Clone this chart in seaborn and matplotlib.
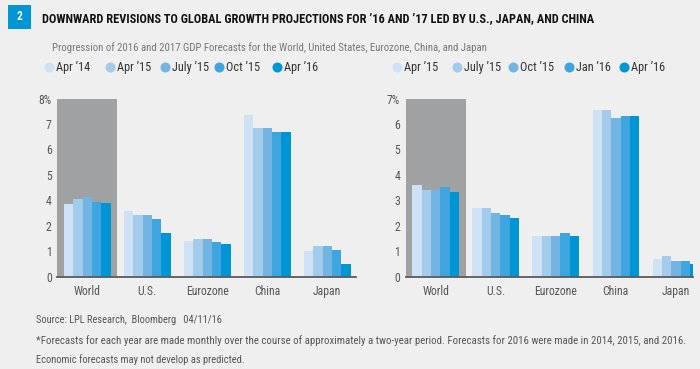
import matplotlib
matplotlib.use("Agg")
import matplotlib.pyplot as plt
from matplotlib import font_manager
from matplotlib.lines import Line2D
from matplotlib.patches import Rectangle
import seaborn as sns
import pandas as pd

regions = ["World", "U.S.", "Eurozone", "China", "Japan"]

# 2016 forecasts (left panel), in the panel's own plotted units
left_labels = ["Apr \u201914", "Apr \u201915", "July \u201915", "Oct \u201915", "Apr \u201916"]
left_values = {
    "Apr \u201914":  [2.84, 2.60, 1.42, 6.34, 0.99],
    "Apr \u201915":  [3.05, 2.43, 1.47, 5.86, 1.21],
    "July \u201915": [3.14, 2.43, 1.47, 5.86, 1.21],
    "Oct \u201915":  [2.95, 2.26, 1.38, 5.69, 1.04],
    "Apr \u201916":  [2.88, 1.73, 1.29, 5.69, 0.50],
}
left_ticklabels = ["0", "1", "2", "4", "5", "6", "7", "8%"]

# 2017 forecasts (right panel)
right_labels = ["Apr \u201915", "July \u201915", "Oct \u201915", "Jan \u201916", "Apr \u201916"]
right_values = {
    "Apr \u201915":  [3.61, 2.71, 1.60, 6.53, 0.71],
    "July \u201915": [3.41, 2.71, 1.60, 6.53, 0.80],
    "Oct \u201915":  [3.41, 2.51, 1.60, 6.24, 0.60],
    "Jan \u201916":  [3.52, 2.42, 1.71, 6.30, 0.60],
    "Apr \u201916":  [3.32, 2.31, 1.60, 6.30, 0.50],
}
right_ticklabels = ["0", "1", "2", "3", "4", "5", "6", "7%"]

colors = ["#cfe2f5", "#a3cbec", "#72b5e3", "#3ea5de", "#0096d6"]
BG = "#efefef"
GREY_BOX = "#a0a1a3"
TXT = "#555555"

sns.set_theme(style="white")
_names = {f.name for f in font_manager.fontManager.ttflist}
FONT = "Liberation Sans"
for cand in ["Roboto Condensed", "Liberation Sans Narrow", "Arial Narrow",
             "Open Sans Condensed", "Liberation Sans", "Roboto"]:
    if cand in _names:
        FONT = cand
        break
plt.rcParams["font.family"] = [FONT, "DejaVu Sans"]

W, H = 700, 369
fig = plt.figure(figsize=(W / 100, H / 100), dpi=100, facecolor=BG)
renderer = fig.canvas.get_renderer()


def fx(px):
    return px / W


def fy(py):
    return 1 - py / H


def fit_text(x, y, s, width_px, size, **kw):
    t = fig.text(fx(x), fy(y), s, fontsize=size, ha="left", va="center", **kw)
    w = t.get_window_extent(renderer).width
    t.set_fontsize(size * width_px / w)
    return t


def make_df(labels, values):
    rows = []
    for lab in labels:
        for reg, v in zip(regions, values[lab]):
            rows.append({"region": reg, "forecast": lab, "value": v})
    return pd.DataFrame(rows)


def draw_panel(rect, labels, values, ticklabels, xmax):
    ax = fig.add_axes(rect)
    ax.set_facecolor(BG)
    ax.axvspan(-0.5, 0.5, color=GREY_BOX, zorder=0, lw=0)
    df = make_df(labels, values)
    sns.barplot(data=df, x="region", y="value", hue="forecast", order=regions,
                hue_order=labels, palette=colors, width=0.777, saturation=1,
                linewidth=0, ax=ax, legend=False, zorder=2)
    ax.set_xlim(-0.5, xmax)
    ax.set_ylim(0, 7)
    ax.set_yticks(range(len(ticklabels)))
    ax.set_yticklabels(ticklabels)
    ax.set_xlabel("")
    ax.set_ylabel("")
    for s in ["top", "right", "left"]:
        ax.spines[s].set_visible(False)
    ax.spines["bottom"].set_color("#5a5a5a")
    ax.spines["bottom"].set_linewidth(1.3)
    ax.tick_params(axis="both", length=0, labelsize=8.5, colors=TXT)
    ax.tick_params(axis="y", pad=4)
    ax.tick_params(axis="x", pad=6)
    return ax


ax_top, ax_bot = 98.5, 276.7
draw_panel([fx(57.3), fy(ax_bot), fx(356 - 57.3), (ax_bot - ax_top) / H],
           left_labels, left_values, left_ticklabels, 4.48)
draw_panel([fx(405.7), fy(ax_bot), fx(692.7 - 405.7), (ax_bot - ax_top) / H],
           right_labels, right_values, right_ticklabels, 4.28)

# number box
fig.add_artist(Rectangle((fx(8), fy(28.5)), fx(23), 23.5 / H, transform=fig.transFigure,
                         facecolor="#0096d6", edgecolor="none"))
fig.text(fx(19.5), fy(17), "2", color="white", fontsize=8.5, fontweight="bold",
         ha="center", va="center")

fit_text(41.5, 19, "DOWNWARD REVISIONS TO GLOBAL GROWTH PROJECTIONS FOR \u201916 AND \u201917 LED BY U.S., JAPAN, AND CHINA",
         541.5, 8.6, fontweight="bold", color="#111111")
fit_text(51.7, 47.3, "Progression of 2016 and 2017 GDP Forecasts for the World, United States, Eurozone, China, and Japan",
         435, 8.7, color="#777777")

# legends
left_leg_x = [49, 110, 165, 219.3, 277.3]
right_leg_x = [396.7, 457.3, 512.7, 569, 624.3]
for xs, labs in [(left_leg_x, left_labels), (right_leg_x, right_labels)]:
    for x, lab, c in zip(xs, labs, colors):
        fig.add_artist(Line2D([fx(x)], [fy(67.3)], marker="o", markersize=6.2,
                              color=c, linestyle="none", transform=fig.transFigure))
        fig.text(fx(x + 7), fy(67.3), lab, fontsize=8.8, color="#333333",
                 ha="left", va="center")

# footer
fit_text(36, 320, "Source: LPL Research,  Bloomberg   04/11/16", 186, 8, color="#555555")
fit_text(36, 341, "*Forecasts for each year are made monthly over the course of approximately a two-year period. Forecasts for 2016 were made in 2014, 2015, and 2016.",
         647, 8, color="#555555")
fit_text(36, 360, "Economic forecasts may not develop as predicted.", 211, 8, color="#555555")

fig.savefig("out.png", dpi=100, facecolor=BG)
